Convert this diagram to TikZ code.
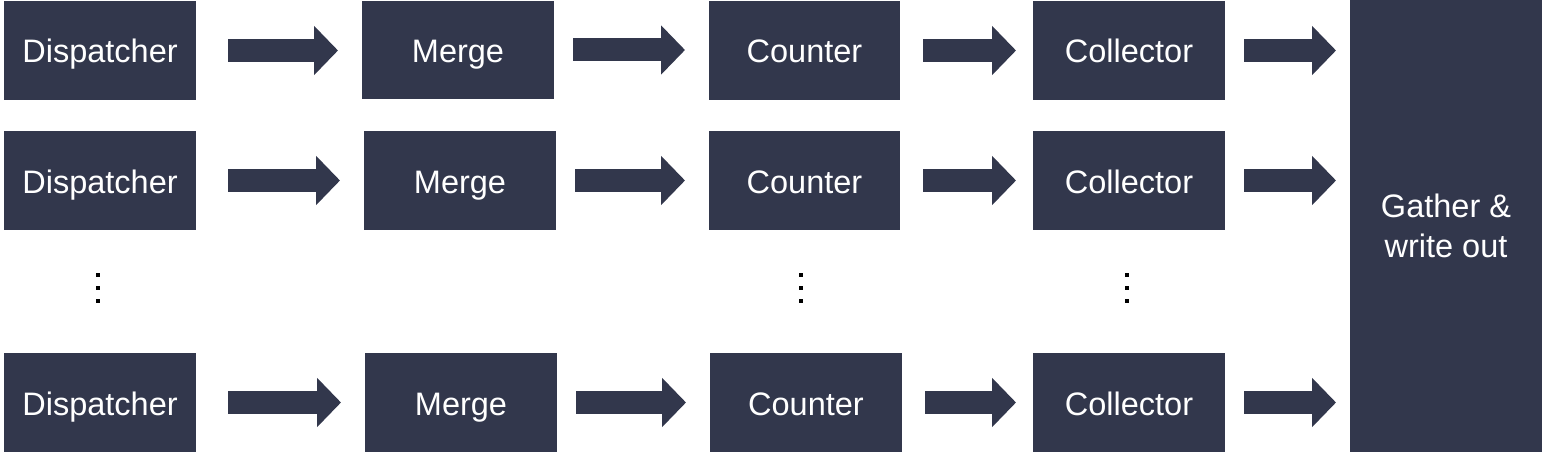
\documentclass[tikz,border=0pt]{standalone}
\usepackage{fontspec}
\setmainfont{Liberation Sans}
\usetikzlibrary{arrows.meta}
\definecolor{boxc}{RGB}{50,55,76}
\tikzset{
  boxbase/.style={fill=boxc, draw=none, text=white, inner sep=0pt, outer sep=0pt,
    minimum width=192pt, minimum height=99pt, font=\fontsize{32.5}{40}\selectfont},
  box/.style={boxbase, text height=25pt, text depth=0pt},
  flow/.style 2 args={draw=boxc, line width=23pt,
    -{Triangle[length=24pt,width=48pt]}, shorten <=#1, shorten >=#2},
  dotmark/.style={fill=black}
}
\begin{document}
\begin{tikzpicture}[x=1pt,y=-1pt]
\useasboundingbox (0,0) rectangle (1542,452);
% row 1
\node[box] (d1) at (100,50.5) {Dispatcher};
\node[box, minimum height=98pt] (m1) at (458,50) {Merge};
\node[box, minimum width=191pt] (c1) at (804.5,50.5) {Counter};
\node[box] (k1) at (1129,50.5) {Collector};
% row 2
\node[box] (d2) at (100,180.5) {Dispatcher};
\node[box] (m2) at (460,180.5) {Merge};
\node[box, minimum width=191pt] (c2) at (804.5,180.5) {Counter};
\node[box] (k2) at (1129,180.5) {Collector};
% row 3
\node[box] (d3) at (100,402.5) {Dispatcher};
\node[box] (m3) at (461,402.5) {Merge};
\node[box] (c3) at (806,402.5) {Counter};
\node[box] (k3) at (1129,402.5) {Collector};
% gather
\node[boxbase, align=center, minimum width=192pt, minimum height=452pt] (g) at (1446,226) {Gather \&\\write out};
% arrows
\foreach \r in {1,2,3}{
  \draw[flow={32pt}{24pt}] (d\r.east) -- (d\r.east -| m\r.west);
  \draw[flow={19pt}{24pt}] (m\r.east) -- (m\r.east -| c\r.west);
  \draw[flow={23pt}{17pt}] (c\r.east) -- (c\r.east -| k\r.west);
  \draw[flow={19pt}{14pt}] (k\r.east) -- (k\r.east -| g.west);
}
% vertical ellipses
\foreach \x in {98,801,1127}{
  \foreach \y in {275,288,301}{
    \fill[dotmark] (\x-2,\y-2) rectangle (\x+2,\y+2);
  }
}
\end{tikzpicture}
\end{document}
